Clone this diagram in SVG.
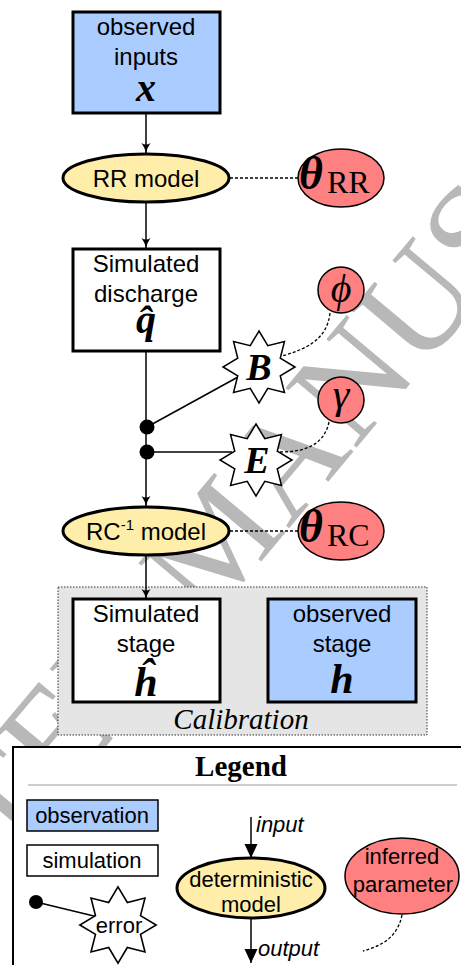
<svg xmlns="http://www.w3.org/2000/svg" xmlns:xlink="http://www.w3.org/1999/xlink" width="461" height="965" viewBox="0 0 461 965">
<style>
.sans{font-family:"Liberation Sans",Arial,sans-serif;font-size:24px;fill:#000}
.lsans{font-family:"Liberation Sans",Arial,sans-serif;font-size:22px;fill:#000}
.math{font-family:"Liberation Serif","Times New Roman",serif;font-weight:bold;font-style:italic;fill:#000}
.rm{font-family:"Liberation Serif","Times New Roman",serif;fill:#000}
.obs{fill:#aaccff;stroke:#000;stroke-width:3}
.sim{fill:#fff;stroke:#000;stroke-width:3}
.model{fill:#ffeeaa;stroke:#000;stroke-width:3}
.param{fill:#ff8080;stroke:#000;stroke-width:1.5}
.err{fill:#fff;stroke:#000;stroke-width:1.5}
.conn{fill:none;stroke:#000;stroke-width:1.5}
.dash{fill:none;stroke:#000;stroke-width:1.3;stroke-dasharray:3,2}
</style>
<defs>
<marker id="arr" markerUnits="userSpaceOnUse" markerWidth="12" markerHeight="10" viewBox="0 -5 12 10" refX="10" refY="0" orient="auto">
<path d="M0,-4.5 Q5,-1 10,0 Q5,1 0,4.5 Q3,0 0,-4.5Z" fill="#000"/>
</marker>
<marker id="tri" markerUnits="userSpaceOnUse" markerWidth="16" markerHeight="16" viewBox="0 -8 16 16" refX="14" refY="0" orient="auto">
<path d="M0,-6.5 L14,0 L0,6.5Z" fill="#000"/>
</marker>
<path id="star" d="M0,-36 L8.8,-21.25 L25.46,-25.46 L21.25,-8.8 L36,0 L21.25,8.8 L25.46,25.46 L8.8,21.25 L0,36 L-8.8,21.25 L-25.46,25.46 L-21.25,8.8 L-36,0 L-21.25,-8.8 L-25.46,-25.46 L-8.8,-21.25Z"/>
</defs>
<rect width="461" height="965" fill="#fff"/>
<text transform="translate(254,570) rotate(-50)" text-anchor="middle" font-family="Liberation Serif,serif" font-size="142" fill="#b8b8b8">ACCEPTED MANUSCRIPT</text>

<g id="calibration">
<rect x="58" y="587" width="369" height="148" fill="#e5e5e5" stroke="#333" stroke-width="1" stroke-dasharray="1.5,1.5"/>
<text x="241" y="729" class="rm" font-size="29" font-style="italic" text-anchor="middle">Calibration</text>
</g>

<g id="connectors">
<line x1="146" y1="113" x2="146" y2="153" class="conn" marker-end="url(#arr)"/>
<line x1="146" y1="202" x2="146" y2="248" class="conn" marker-end="url(#arr)"/>
<line x1="146" y1="351" x2="146" y2="506" class="conn" marker-end="url(#arr)"/>
<line x1="146" y1="555" x2="146" y2="599" class="conn" marker-end="url(#arr)"/>
<line x1="147" y1="427" x2="238" y2="377" class="conn"/>
<line x1="147" y1="452" x2="232" y2="452" class="conn"/>
<line x1="230" y1="178" x2="298" y2="178" class="dash"/>
<line x1="230" y1="531" x2="298" y2="531" class="dash"/>
<path d="M330,313 C327,340 306,349 282,356" class="dash"/>
<path d="M329,422 C324,445 305,452 280,452" class="dash"/>
<circle cx="147" cy="427" r="7.5" fill="#000"/>
<circle cx="147" cy="452" r="7.5" fill="#000"/>
</g>

<g id="inputs">
<rect x="73" y="12" width="147" height="101" class="obs"/>
<text x="146" y="35" class="sans" text-anchor="middle">observed</text>
<text x="146" y="65" class="sans" text-anchor="middle">inputs</text>
<text x="146" y="101" class="math" font-size="40" text-anchor="middle">x</text>
</g>

<g id="rr-model">
<ellipse cx="146" cy="178" rx="83" ry="24" class="model"/>
<text x="146" y="187" class="sans" text-anchor="middle">RR model</text>
</g>

<g id="theta-rr">
<ellipse cx="341" cy="178" rx="43" ry="29" class="param"/>
<text x="299" y="189" class="math" font-size="46">θ</text>
<text x="327" y="193" class="rm" font-size="32">RR</text>
</g>

<g id="discharge">
<rect x="73" y="249" width="147" height="102" class="sim"/>
<text x="146" y="272" class="sans" text-anchor="middle">Simulated</text>
<text x="146" y="302" class="sans" text-anchor="middle">discharge</text>
<text x="146" y="333" class="math" font-size="40" text-anchor="middle">q̂</text>
</g>

<g id="phi">
<circle cx="341" cy="290" r="23" class="param"/>
<text x="341" y="302" class="rm" font-style="italic" font-size="40" text-anchor="middle">ϕ</text>
</g>

<g id="gamma">
<circle cx="341" cy="400" r="23" class="param"/>
<text x="341" y="408" class="rm" font-style="italic" font-size="42" text-anchor="middle">γ</text>
</g>

<g id="B">
<use xlink:href="#star" href="#star" x="259" y="367" class="err"/>
<text x="259" y="380" class="math" font-size="38" text-anchor="middle">B</text>
</g>

<g id="E">
<use xlink:href="#star" href="#star" x="256" y="460" class="err"/>
<text x="257" y="473" class="math" font-size="38" text-anchor="middle">E</text>
</g>

<g id="rc-model">
<ellipse cx="146" cy="531" rx="83" ry="24" class="model"/>
<text x="146" y="540" class="sans" text-anchor="middle">RC<tspan dy="-10" font-size="15">-1</tspan><tspan dy="10"> model</tspan></text>
</g>

<g id="theta-rc">
<ellipse cx="341" cy="531" rx="43" ry="29" class="param"/>
<text x="299" y="542" class="math" font-size="46">θ</text>
<text x="327" y="546" class="rm" font-size="32">RC</text>
</g>

<g id="sim-stage">
<rect x="73" y="599" width="147" height="103" class="sim"/>
<text x="146" y="622" class="sans" text-anchor="middle">Simulated</text>
<text x="146" y="652" class="sans" text-anchor="middle">stage</text>
<text x="146" y="696" class="math" font-size="42" text-anchor="middle">ĥ</text>
</g>

<g id="obs-stage">
<rect x="268" y="599" width="148" height="103" class="obs"/>
<text x="342" y="622" class="sans" text-anchor="middle">observed</text>
<text x="342" y="652" class="sans" text-anchor="middle">stage</text>
<text x="342" y="693" class="math" font-size="42" text-anchor="middle">h</text>
</g>

<g id="legend">
<rect x="13" y="747" width="470" height="240" fill="#fff" stroke="#000" stroke-width="2"/>
<text x="241" y="776" class="rm" font-weight="bold" font-size="29" text-anchor="middle">Legend</text>
<line x1="28" y1="785" x2="457" y2="785" stroke="#999" stroke-width="1"/>
<g id="legend-observation">
<rect x="27" y="800" width="131" height="31" fill="#aaccff" stroke="#000" stroke-width="1.5"/>
<text x="92" y="823" class="lsans" text-anchor="middle">observation</text>
</g>
<g id="legend-simulation">
<rect x="27" y="845" width="131" height="31" fill="#fff" stroke="#000" stroke-width="1.5"/>
<text x="92" y="868" class="lsans" text-anchor="middle">simulation</text>
</g>
<g id="legend-error">
<line x1="36" y1="902" x2="98" y2="917" class="conn"/>
<circle cx="36" cy="902" r="7" fill="#000"/>
<use xlink:href="#star" href="#star" transform="translate(118,925) scale(1.06)" class="err"/>
<text x="119" y="933" class="lsans" text-anchor="middle">error</text>
</g>
<g id="legend-model">
<line x1="251" y1="817" x2="251" y2="858" class="conn" marker-end="url(#tri)"/>
<line x1="251" y1="918" x2="251" y2="963" class="conn" marker-end="url(#tri)"/>
<ellipse cx="251" cy="888" rx="74" ry="30" class="model"/>
<text x="251" y="887" class="lsans" text-anchor="middle">deterministic</text>
<text x="251" y="912" class="lsans" text-anchor="middle">model</text>
<text x="256" y="832" class="lsans" font-style="italic">input</text>
<text x="258" y="956" class="lsans" font-style="italic">output</text>
</g>
<g id="legend-param">
<ellipse cx="402" cy="876" rx="57" ry="38" class="param"/>
<text x="402" y="864" class="lsans" text-anchor="middle">inferred</text>
<text x="403" y="892" class="lsans" text-anchor="middle">parameter</text>
<path d="M402,915 C398,935 385,945 363,951" class="dash"/>
</g>
</g>
</svg>
